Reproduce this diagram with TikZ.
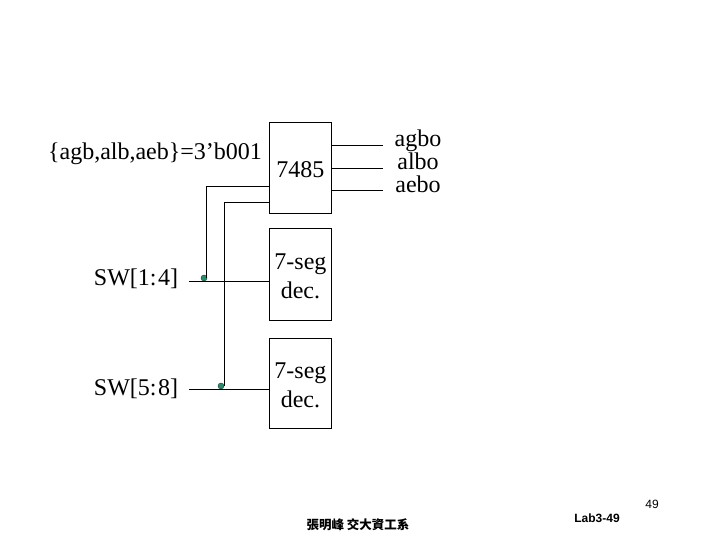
\documentclass[tikz,border=0pt]{standalone}
\usepackage{fontspec}
\setmainfont{Liberation Serif}
\setsansfont{Liberation Sans}
\newfontfamily\cjkfont{Noto Sans CJK TC}
\usepackage{tikz}
\definecolor{dotgreen}{RGB}{40,140,110}
\newcommand{\chiptext}[1]{\raisebox{-2pt}[\height][\depth]{#1}}

\begin{document}
\begin{tikzpicture}[x=1pt,y=-1pt]
\tikzstyle{chip} = [draw, line width=0.9pt, minimum width=62pt, anchor=north west, inner sep=0pt, align=center, font=\fontsize{24}{29}\selectfont]
\tikzstyle{lbl} = [inner sep=0pt, align=center, font=\fontsize{24}{26}\selectfont]
\tikzstyle{wire} = [line width=0.9pt]
\tikzstyle{tap} = [circle, fill=dotgreen, draw=black!60!dotgreen, line width=0.4pt, minimum size=6pt, inner sep=0pt]
\useasboundingbox (0,0) rectangle (720,540);
\node[chip, minimum height=91pt] (cmp) at (269,122) {\chiptext{7485}};
\node[chip, minimum height=92pt] (segA) at (269,228) {\chiptext{7-seg}\\\chiptext{dec.}};
\node[chip, minimum height=90pt] (segB) at (269,338) {\chiptext{7-seg}\\\chiptext{dec.}};
\node[lbl] (eq) at (155,154) {\{agb,alb,aeb\}=3’b001};
\node[lbl] (swA) at (136,279) {SW[1:\kern1.5pt 4]};
\node[lbl] (swB) at (136,389) {SW[5:\kern1.5pt 8]};
\node[lbl] (agbo) at (418,141) {agbo};
\node[lbl] (albo) at (418,161) {albo};
\node[lbl] (aebo) at (418,184) {aebo};
\node[tap] (tapA) at (204,278) {};
\node[tap] (tapB) at (221,386) {};
\coordinate (agboEnd) at (383,145);
\coordinate (alboEnd) at (383,168);
\coordinate (aeboEnd) at (383,190);
\coordinate (swAEnd) at (189,281);
\coordinate (swBEnd) at (189,389);
\draw[wire] (cmp.east |- agboEnd) -- (agboEnd);
\draw[wire] (cmp.east |- alboEnd) -- (alboEnd);
\draw[wire] (cmp.east |- aeboEnd) -- (aeboEnd);
\draw[wire] (swAEnd) -- (segA.west |- swAEnd);
\draw[wire] (swBEnd) -- (segB.west |- swBEnd);
\draw[wire] (cmp.west |- 0,186) -- (206,186) -- (206,278);
\draw[wire] (cmp.west |- 0,202) -- (224,202) -- (224,386);
\node[inner sep=0pt, font=\cjkfont\bfseries\fontsize{12.5}{14}\selectfont] (author) at (358,525) {張明峰 交大資工系};
\node[inner sep=0pt, font=\sffamily\bfseries\fontsize{12}{14}\selectfont] (lab) at (597,518) {Lab3-49};
\node[inner sep=0pt, font=\sffamily\fontsize{12}{14}\selectfont] (page) at (652,504) {49};
\end{tikzpicture}
\end{document}
